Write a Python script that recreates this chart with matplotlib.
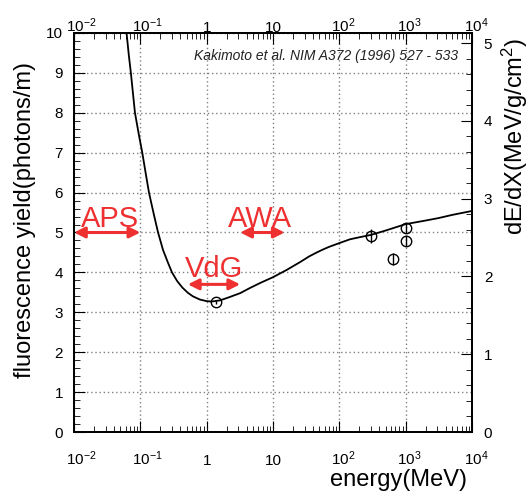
import matplotlib
matplotlib.use('Agg')
import matplotlib.pyplot as plt
from matplotlib.transforms import ScaledTranslation
from matplotlib.ticker import FixedLocator, FixedFormatter, LogLocator, MultipleLocator, NullFormatter

plt.rcParams['font.family'] = ['Liberation Sans', 'DejaVu Sans']
plt.rcParams['mathtext.fontset'] = 'custom'
plt.rcParams['mathtext.rm'] = 'Liberation Sans'
plt.rcParams['mathtext.it'] = 'Liberation Sans:italic'
plt.rcParams['mathtext.bf'] = 'Liberation Sans:bold'

# fluorescence yield model vs electron energy
curve_e = [0.062, 0.067, 0.072, 0.083, 0.095, 0.107, 0.12, 0.135, 0.16, 0.185, 0.22,
           0.26, 0.30, 0.36, 0.43, 0.52, 0.62, 0.79, 1.0, 1.2, 1.6, 2.2, 3.2, 4.5,
           6.5, 10, 16, 25.7, 35, 45.7, 56, 70, 102, 145, 200, 300, 500, 1000,
           2000, 3100, 5000, 10000]
curve_y = [10.0, 9.45, 9.0, 8.0, 7.45, 7.0, 6.5, 6.0, 5.45, 5.0, 4.56,
           4.25, 4.0, 3.78, 3.62, 3.49, 3.40, 3.32, 3.28, 3.27, 3.30, 3.38, 3.48, 3.61,
           3.74, 3.88, 4.06, 4.26, 4.40, 4.50, 4.57, 4.64, 4.74, 4.83, 4.88, 4.94, 5.05, 5.21,
           5.30, 5.36, 5.44, 5.54]

# Kakimoto et al. measurements
meas_e = [1.4, 300, 650, 1000, 1000]
meas_y = [3.25, 4.91, 4.34, 5.11, 4.79]
meas_err = [0.04, 0.17, 0.15, 0.12, 0.12]

# accelerator energy ranges
acc_names = ['APS', 'AWA', 'VdG']
acc_lo = [0.01, 3.2, 0.52]
acc_hi = [0.1, 15, 3.2]
acc_y = [5.0, 5.0, 3.7]

decades = [1e-2, 1e-1, 1, 10, 1e2, 1e3, 1e4]
decade_labels = ['$10^{-2}$', '$10^{-1}$', '1', '10', '$10^{2}$', '$10^{3}$', '$10^{4}$']

red = '#ee3030'
tick_fs = 11

fig = plt.figure(figsize=(5.31, 4.93), dpi=100)
ax = fig.add_axes([74/531, 1-432/493, 398/531, 399/493])
ax.set_xscale('log')
ax.set_xlim(1e-2, 1e4)
ax.set_ylim(0, 10)

ax.plot(curve_e, curve_y, color='black', lw=1.3, zorder=3)
ax.errorbar(meas_e, meas_y, yerr=meas_err, fmt='o', ms=7.5, mfc='none', mec='black',
            mew=1.0, ecolor='black', elinewidth=1.0, capsize=0, zorder=4)

for lo, hi, y in zip(acc_lo, acc_hi, acc_y):
    ax.annotate('', xy=(hi, y), xytext=(lo, y),
                arrowprops=dict(arrowstyle='<|-|>', color=red, lw=2.2,
                                mutation_scale=16, shrinkA=0, shrinkB=0))
label_pos = {'APS': (0.0349, 5.14), 'AWA': (6.37, 5.14), 'VdG': (1.29, 3.88)}
for name in acc_names:
    x, y = label_pos[name]
    ax.text(x, y, name, color=red, fontsize=21, ha='center', va='baseline')

ax.text(0.965, 0.932, 'Kakimoto et al. NIM A372 (1996) 527 - 533', transform=ax.transAxes,
        ha='right', va='baseline', fontsize=10, style='italic', color='#222222')

# grid and ticks
ax.grid(True, which='major', color='#808080', linestyle=(0, (1, 2)), lw=1.0)
ax.xaxis.set_major_locator(FixedLocator(decades))
ax.xaxis.set_major_formatter(FixedFormatter(decade_labels))
ax.xaxis.set_minor_locator(LogLocator(base=10, subs=range(2, 10)))
ax.xaxis.set_minor_formatter(NullFormatter())
ax.yaxis.set_major_locator(MultipleLocator(1))
ax.yaxis.set_minor_locator(MultipleLocator(0.2))
ax.tick_params(axis='x', which='both', direction='in', bottom=True, top=False,
               labelsize=tick_fs, pad=24)
ax.tick_params(axis='x', which='major', length=8)
ax.tick_params(axis='x', which='minor', length=4)
ax.tick_params(axis='y', which='both', direction='in', left=True, right=False,
               labelsize=tick_fs, pad=8)
ax.tick_params(axis='y', which='major', length=8)
ax.tick_params(axis='y', which='minor', length=4)

# top energy axis
axt = ax.twiny()
axt.set_xscale('log')
axt.set_xlim(ax.get_xlim())
axt.xaxis.set_major_locator(FixedLocator(decades))
axt.xaxis.set_major_formatter(FixedFormatter(decade_labels))
axt.xaxis.set_minor_locator(LogLocator(base=10, subs=range(2, 10)))
axt.xaxis.set_minor_formatter(NullFormatter())
axt.tick_params(axis='x', which='both', direction='in', labelsize=tick_fs, pad=1)
axt.tick_params(axis='x', which='major', length=8)
axt.tick_params(axis='x', which='minor', length=4)

# keep the "10" of each power label centred on its tick, exponent hanging right
shift = ScaledTranslation(-0.556 * tick_fs / 72, 0, fig.dpi_scale_trans)
for lab, t_bot, t_top in zip(decade_labels, ax.xaxis.get_major_ticks(),
                             axt.xaxis.get_major_ticks()):
    t_bot.label1.set_verticalalignment('baseline')
    t_top.label2.set_verticalalignment('baseline')
    if '^' in lab:
        for txt in (t_bot.label1, t_top.label2):
            txt.set_horizontalalignment('left')
            txt.set_transform(txt.get_transform() + shift)

# right dE/dX axis
axr = ax.twinx()
axr.set_ylim(0, 5.13)
axr.yaxis.set_major_locator(MultipleLocator(1))
axr.yaxis.set_minor_locator(MultipleLocator(0.2))
axr.tick_params(axis='y', which='both', direction='in', labelsize=tick_fs, pad=8.5)
axr.tick_params(axis='y', which='major', length=8)
axr.tick_params(axis='y', which='minor', length=4)

for a in (ax, axt, axr):
    for s in a.spines.values():
        s.set_linewidth(1.2)

fig.text(25/531, 1-62/493, 'fluorescence yield(photons/m)', rotation=90,
         rotation_mode='anchor', ha='right', va='center', fontsize=17)
fig.text(515/531, 1-38/493, 'dE/dX(MeV/g/cm$^{2}$)', rotation=90,
         rotation_mode='anchor', ha='right', va='center', fontsize=17)
fig.text(467/531, 1-480/493, 'energy(MeV)', ha='right', va='center', fontsize=17)

fig.savefig('out.png', dpi=100)
